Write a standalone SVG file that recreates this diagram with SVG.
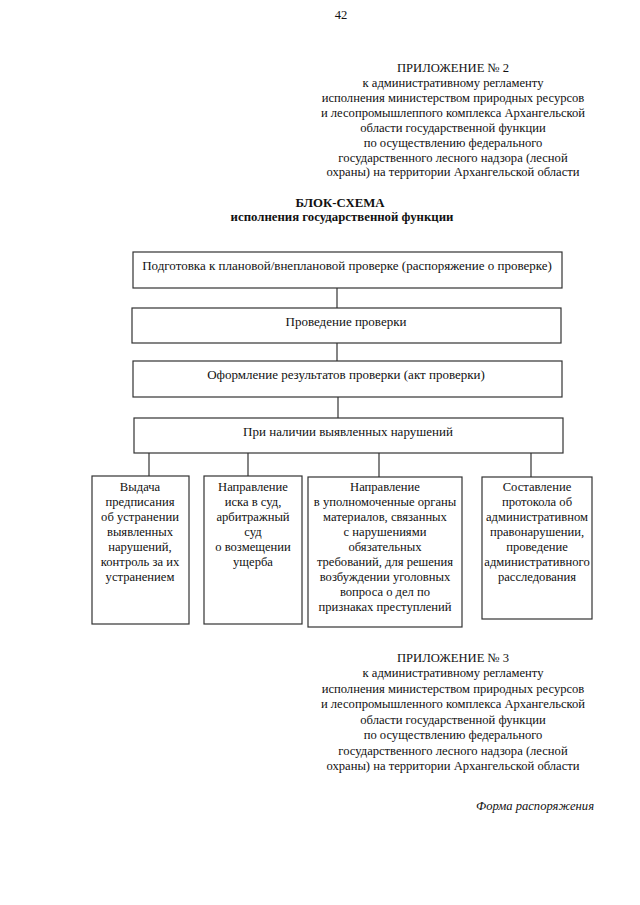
<svg xmlns="http://www.w3.org/2000/svg" width="640" height="905" viewBox="0 0 640 905">
<style>
text{font-family:"Liberation Serif","Times New Roman",serif;font-size:12.6px;fill:#111;}
.c{text-anchor:middle;}
.b{font-weight:bold;font-size:12.8px;}
.t{font-size:13px;}
.box{fill:#fff;stroke:#333;stroke-width:1.2;}
.ln{stroke:#333;stroke-width:1.2;fill:none;}
</style>
<rect width="640" height="905" fill="#fff"/>
<text class="c" x="341" y="19">42</text>
<g id="header2">
<text class="c" x="453" y="72">ПРИЛОЖЕНИЕ № 2</text>
<text class="c" x="453" y="87">к административному регламенту</text>
<text class="c" x="453" y="102">исполнения министерством природных ресурсов</text>
<text class="c" x="453" y="117">и лесопромышлеппого комплекса Архангельской</text>
<text class="c" x="453" y="132">области государственной функции</text>
<text class="c" x="453" y="147">по осуществлению федерального</text>
<text class="c" x="453" y="162">государственного лесного надзора (лесной</text>
<text class="c" x="453" y="176">охраны) на территории Архангельской области</text>
</g>
<g id="title">
<text class="c b" x="340" y="207">БЛОК-СХЕМА</text>
<text class="c b" x="342" y="221">исполнения государственной функции</text>
</g>
<g id="connectors">
<line class="ln" x1="337" y1="288" x2="337" y2="308"/>
<line class="ln" x1="337" y1="343" x2="337" y2="361"/>
<line class="ln" x1="338" y1="397" x2="338" y2="418"/>
<line class="ln" x1="149" y1="453" x2="149" y2="476"/>
<line class="ln" x1="248" y1="453" x2="248" y2="476"/>
<line class="ln" x1="379" y1="453" x2="379" y2="477"/>
<line class="ln" x1="531" y1="453" x2="531" y2="477"/>
</g>
<g id="n1">
<rect class="box" x="133" y="252" width="429" height="36"/>
<text class="c t" x="347" y="270">Подготовка к плановой/внеплановой проверке (распоряжение о проверке)</text>
</g>
<g id="n2">
<rect class="box" x="132" y="308" width="429" height="35"/>
<text class="c t" x="346" y="326">Проведение проверки</text>
</g>
<g id="n3">
<rect class="box" x="133" y="361" width="429" height="36"/>
<text class="c t" x="346" y="379">Оформление результатов проверки (акт проверки)</text>
</g>
<g id="n4">
<rect class="box" x="134" y="418" width="429" height="35"/>
<text class="c t" x="348" y="436">При наличии выявленных нарушений</text>
</g>
<g id="n5">
<rect class="box" x="92" y="476" width="97" height="148"/>
<text class="c" x="140" y="491">Выдача</text>
<text class="c" x="140" y="506">предписания</text>
<text class="c" x="140" y="521">об устранении</text>
<text class="c" x="140" y="536">выявленных</text>
<text class="c" x="140" y="551">нарушений,</text>
<text class="c" x="140" y="566">контроль за их</text>
<text class="c" x="140" y="581">устранением</text>
</g>
<g id="n6">
<rect class="box" x="204" y="476" width="98" height="148"/>
<text class="c" x="253" y="491">Направление</text>
<text class="c" x="253" y="506">иска в суд,</text>
<text class="c" x="253" y="521">арбитражный</text>
<text class="c" x="253" y="536">суд</text>
<text class="c" x="253" y="551">о возмещении</text>
<text class="c" x="253" y="566">ущерба</text>
</g>
<g id="n7">
<rect class="box" x="308" y="477" width="154" height="150"/>
<text class="c" x="385" y="491">Направление</text>
<text class="c" x="385" y="506">в уполномоченные органы</text>
<text class="c" x="385" y="521">материалов, связанных</text>
<text class="c" x="385" y="536">с нарушениями</text>
<text class="c" x="385" y="551">обязательных</text>
<text class="c" x="385" y="566">требований, для решения</text>
<text class="c" x="385" y="581">возбуждении уголовных</text>
<text class="c" x="385" y="596">вопроса о дел по</text>
<text class="c" x="385" y="611">признаках преступлений</text>
</g>
<g id="n8">
<rect class="box" x="482" y="477" width="110" height="142"/>
<text class="c" x="537" y="491">Составление</text>
<text class="c" x="537" y="506">протокола об</text>
<text class="c" x="537" y="521">административном</text>
<text class="c" x="537" y="536">правонарушении,</text>
<text class="c" x="537" y="551">проведение</text>
<text class="c" x="537" y="566">административного</text>
<text class="c" x="537" y="581">расследования</text>
</g>
<g id="header3">
<text class="c" x="453" y="662">ПРИЛОЖЕНИЕ № 3</text>
<text class="c" x="453" y="677">к административному регламенту</text>
<text class="c" x="453" y="693">исполнения министерством природных ресурсов</text>
<text class="c" x="453" y="708">и лесопромышленного комплекса Архангельской</text>
<text class="c" x="453" y="724">области государственной функции</text>
<text class="c" x="453" y="739">по осуществлению федерального</text>
<text class="c" x="453" y="755">государственного лесного надзора (лесной</text>
<text class="c" x="453" y="770">охраны) на территории Архангельской области</text>
</g>
<text x="594" y="810" style="text-anchor:end;font-style:italic">Форма распоряжения</text>
</svg>
